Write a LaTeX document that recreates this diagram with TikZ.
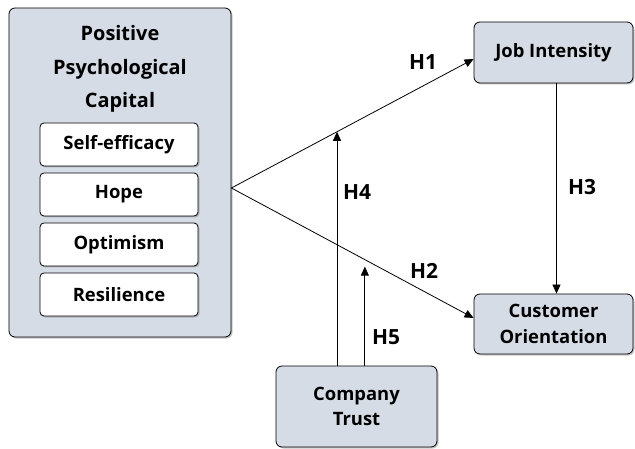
\documentclass[tikz,border=0pt]{standalone}
\usepackage{fontspec}
\setmainfont{Open Sans}
\usetikzlibrary{shadows,calc,arrows.meta}
\definecolor{boxfill}{RGB}{214,220,230}

\tikzset{
    box/.style={draw=black, fill=boxfill, rounded corners=6bp, line width=0.8bp,
        drop shadow={shadow xshift=1.5bp, shadow yshift=-1.5bp, opacity=0.45},
        align=center, inner sep=0pt, font=\bfseries\fontsize{18.5}{25.5}\selectfont},
    item/.style={box, fill=white, rounded corners=4bp, minimum width=158bp, minimum height=43bp},
    hyp/.style={font=\bfseries\fontsize{21}{24}\selectfont},
    link/.style={-{Triangle[length=9bp,width=8bp]}, line width=0.8bp}
}

\begin{document}
\begin{tikzpicture}[x=1bp, y=-1bp]
        \useasboundingbox (0,0) rectangle (635,449);

        \node[box, minimum width=222bp, minimum height=329bp] (pcap) at (120,172.5) {};
        \node[font=\bfseries\fontsize{20}{33.5}\selectfont, align=center] (title) at (120,69)
            {Positive\\Psychological\\Capital};
        \node[item] (self) at (119,144.5) {Self-efficacy};
        \node[item] (hope) at (119,194.5) {Hope};
        \node[item] (opt) at (119,244.5) {Optimism};
        \node[item] (res) at (119,294.5) {Resilience};

        \node[box, minimum width=159bp, minimum height=61bp] (job) at (553.5,52.5) {Job Intensity};
        \node[box, minimum width=159bp, minimum height=60bp] (cust) at (553.5,324) {Customer\\Orientation};
        \node[box, minimum width=161bp, minimum height=81bp] (trust) at (356.5,406.5) {Company\\Trust};

        \coordinate (split) at (pcap.east |- 0,188);
        \coordinate (jobin) at ($(job.west)+(0,6.5)$);
        \coordinate (custin) at ($(cust.west)+(0,-6)$);
        \coordinate (m1) at ($(split)!0.436!(jobin)$);
        \coordinate (m2) at ($(split)!0.551!(custin)$);

        \draw[link] (split) -- (jobin);
        \draw[link] (split) -- (custin);
        \draw[link] ($(job.south)+(3,0)$) -- ($(cust.north)+(3,0)$);
        \draw[link] (trust.north -| m1) -- (m1);
        \draw[link] (trust.north -| m2) -- ($(m2)+(0,7)$);

        \node[hyp] (h1) at (423,62) {H1};
        \node[hyp] (h2) at (424,271) {H2};
        \node[hyp] (h3) at (582,187) {H3};
        \node[hyp] (h4) at (357,192) {H4};
        \node[hyp] (h5) at (386,337) {H5};
    \end{tikzpicture}
\end{document}
